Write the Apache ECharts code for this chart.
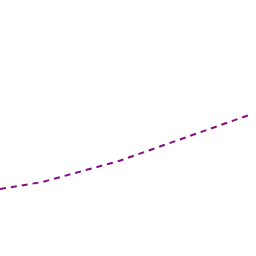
<!DOCTYPE html>
<html><head><meta charset="utf-8">
<script src="https://cdn.jsdelivr.net/npm/echarts@6/dist/echarts.min.js"></script>
<style>html,body{margin:0;padding:0;background:#fff}#c{width:256px;height:256px}</style>
</head><body><div id="c"></div>
<script>
var xValues = [0, 42, 118, 250];
var yValues = [67, 74, 95, 142];
var chart = echarts.init(document.getElementById('c'), null, {renderer: 'canvas'});
chart.setOption({
  animation: false,
  grid: {left: 0, right: 4, top: 0, bottom: 0},
  xAxis: {type: 'value', min: 0, max: 250, show: false},
  yAxis: {type: 'value', min: 0, max: 256, show: false},
  series: [{
    type: 'line',
    data: xValues.map(function (x, i) { return [x, yValues[i]]; }),
    showSymbol: false,
    lineStyle: {color: '#850a85', width: 2, type: [6, 5]}
  }]
});
</script></body></html>
